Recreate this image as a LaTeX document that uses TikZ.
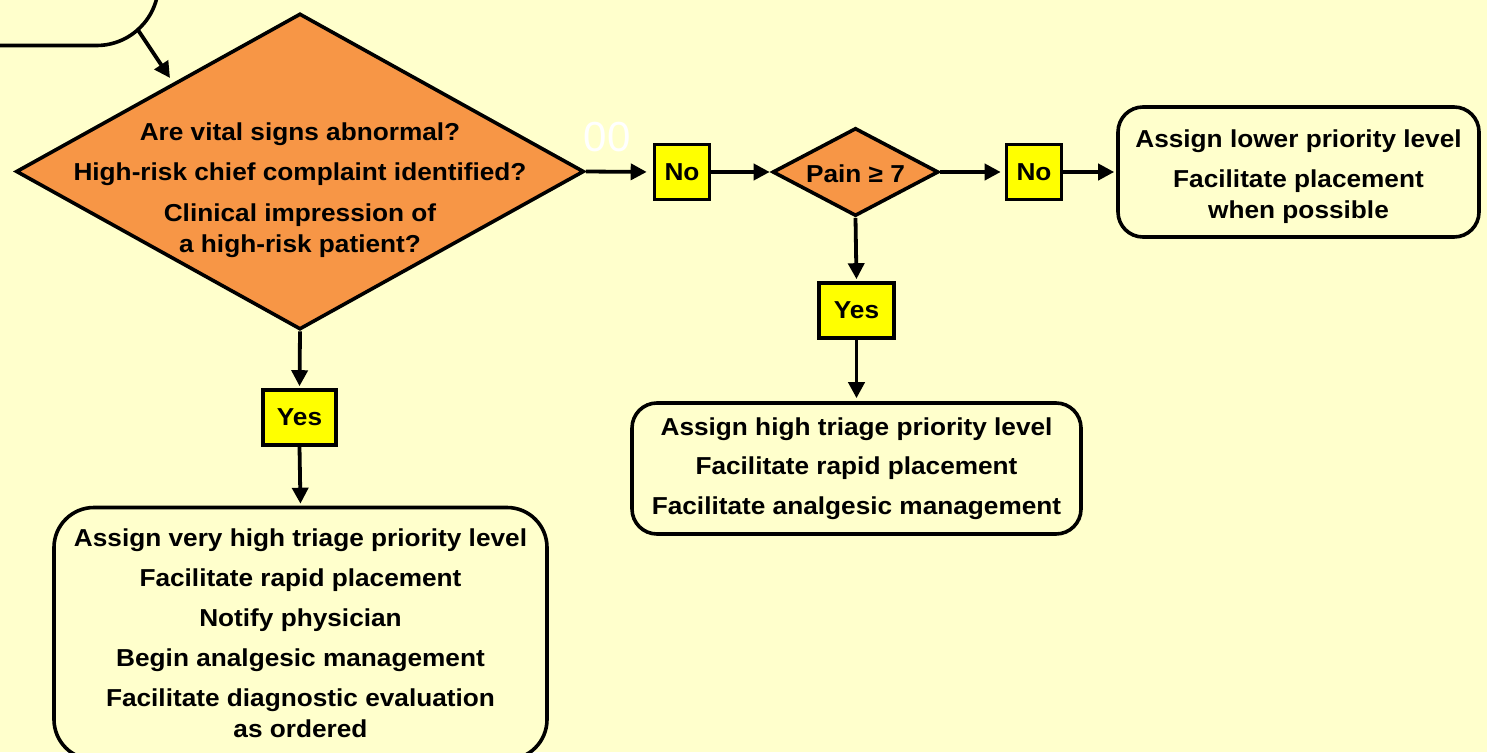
\documentclass[tikz,border=0pt]{standalone}
\usepackage{fontspec}
\setmainfont{Liberation Sans}[FakeStretch=1.07]
\newfontfamily\plainfont{Liberation Sans}
\usetikzlibrary{shapes.geometric,arrows.meta}
\definecolor{bg}{HTML}{FFFFCC}
\definecolor{dorange}{HTML}{F79646}
\definecolor{yel}{HTML}{FFFF00}
\begin{document}
\begin{tikzpicture}[x=1pt,y=-1pt,
  every node/.style={font=\fontsize{24.5}{31}\selectfont\bfseries},
  box/.style={draw=black,line width=3.6pt,rounded corners=25pt,fill=bg,align=center,inner sep=0pt},
  dec/.style={diamond,draw=black,line width=3.6pt,fill=dorange,inner sep=0pt},
  ans/.style={rectangle,draw=black,line width=3.6pt,fill=yel,minimum width=55pt,minimum height=55pt,inner sep=0pt},
  arr/.style={line width=3.8pt,-{Triangle[length=16pt,width=16pt]}},
]
\useasboundingbox (0,0) rectangle (1487,752);
\clip (0,0) rectangle (1487,752);
\fill[bg] (0,0) rectangle (1487,752);

% top-left partial box
\node[box,rounded corners=62pt,minimum width=360pt,minimum height=146pt] (tl) at (-21.5,-27.5) {};
\coordinate (tlout) at (138,30);
\coordinate (d1in) at (170,78);

% main decision
\node[dec,minimum width=568pt,minimum height=316pt] (d1) at (300,171.5) {};
\node[align=center] (d1t) at (300,190) {Are vital signs abnormal?\\[9pt]High-risk chief complaint identified?\\[10pt]Clinical impression of\\a high-risk patient?};

\node[font=\plainfont\fontsize{42}{44}\selectfont,text=white] (zz) at (607,137) {00};

\node[ans] (no1) at (682,172) {No};
\node[dec,minimum width=166pt,minimum height=88pt] (pain) at (855.5,172) {};
\node (paint) at (855.5,174) {Pain ≥ 7};
\node[ans] (no2) at (1034,172) {No};

\node[box,minimum width=361pt,minimum height=130pt] (rbox) at (1298.5,172) {};
\node[align=center] (rboxt) at (1298.5,177)
  {Assign lower priority level\\[9pt]Facilitate placement\\when possible};

\node[ans,minimum width=75pt] (yes2) at (856.5,310.5) {Yes};
\node[box,minimum width=449pt,minimum height=131pt] (mbox) at (856.5,468.5)
  {Assign high triage priority level\\[8.5pt]Facilitate rapid placement\\[8.5pt]Facilitate analgesic management};

\node[ans,minimum width=73pt] (yes1) at (299.5,417.5) {Yes};
\node[box,rounded corners=40pt,minimum width=493pt,minimum height=252pt] (bbox) at (300.5,633.5)
  {Assign very high triage priority level\\[9pt]Facilitate rapid placement\\[9pt]Notify physician\\[9pt]Begin analgesic management\\[9pt]Facilitate diagnostic evaluation\\as ordered};

% connectors
\draw[arr] (tlout) -- (d1in);
\draw[arr,shorten >=6pt] (d1.east) -- (no1.west);
\draw[arr,shorten >=1pt] (no1.east) -- (pain.west);
\draw[arr,shorten >=4pt] (pain.east) -- (no2.west);
\draw[arr,shorten >=2pt] (no2.east) -- (rbox.west);
\draw[arr,shorten >=2pt] (pain.south) -- (yes2.north);
\draw[arr,shorten >=3pt] (yes2.south) -- (mbox.north);
\draw[arr,shorten >=2pt] (d1.south) -- (yes1.north);
\draw[arr,shorten >=2pt] (yes1.south) -- (bbox.north);
\end{tikzpicture}
\end{document}
